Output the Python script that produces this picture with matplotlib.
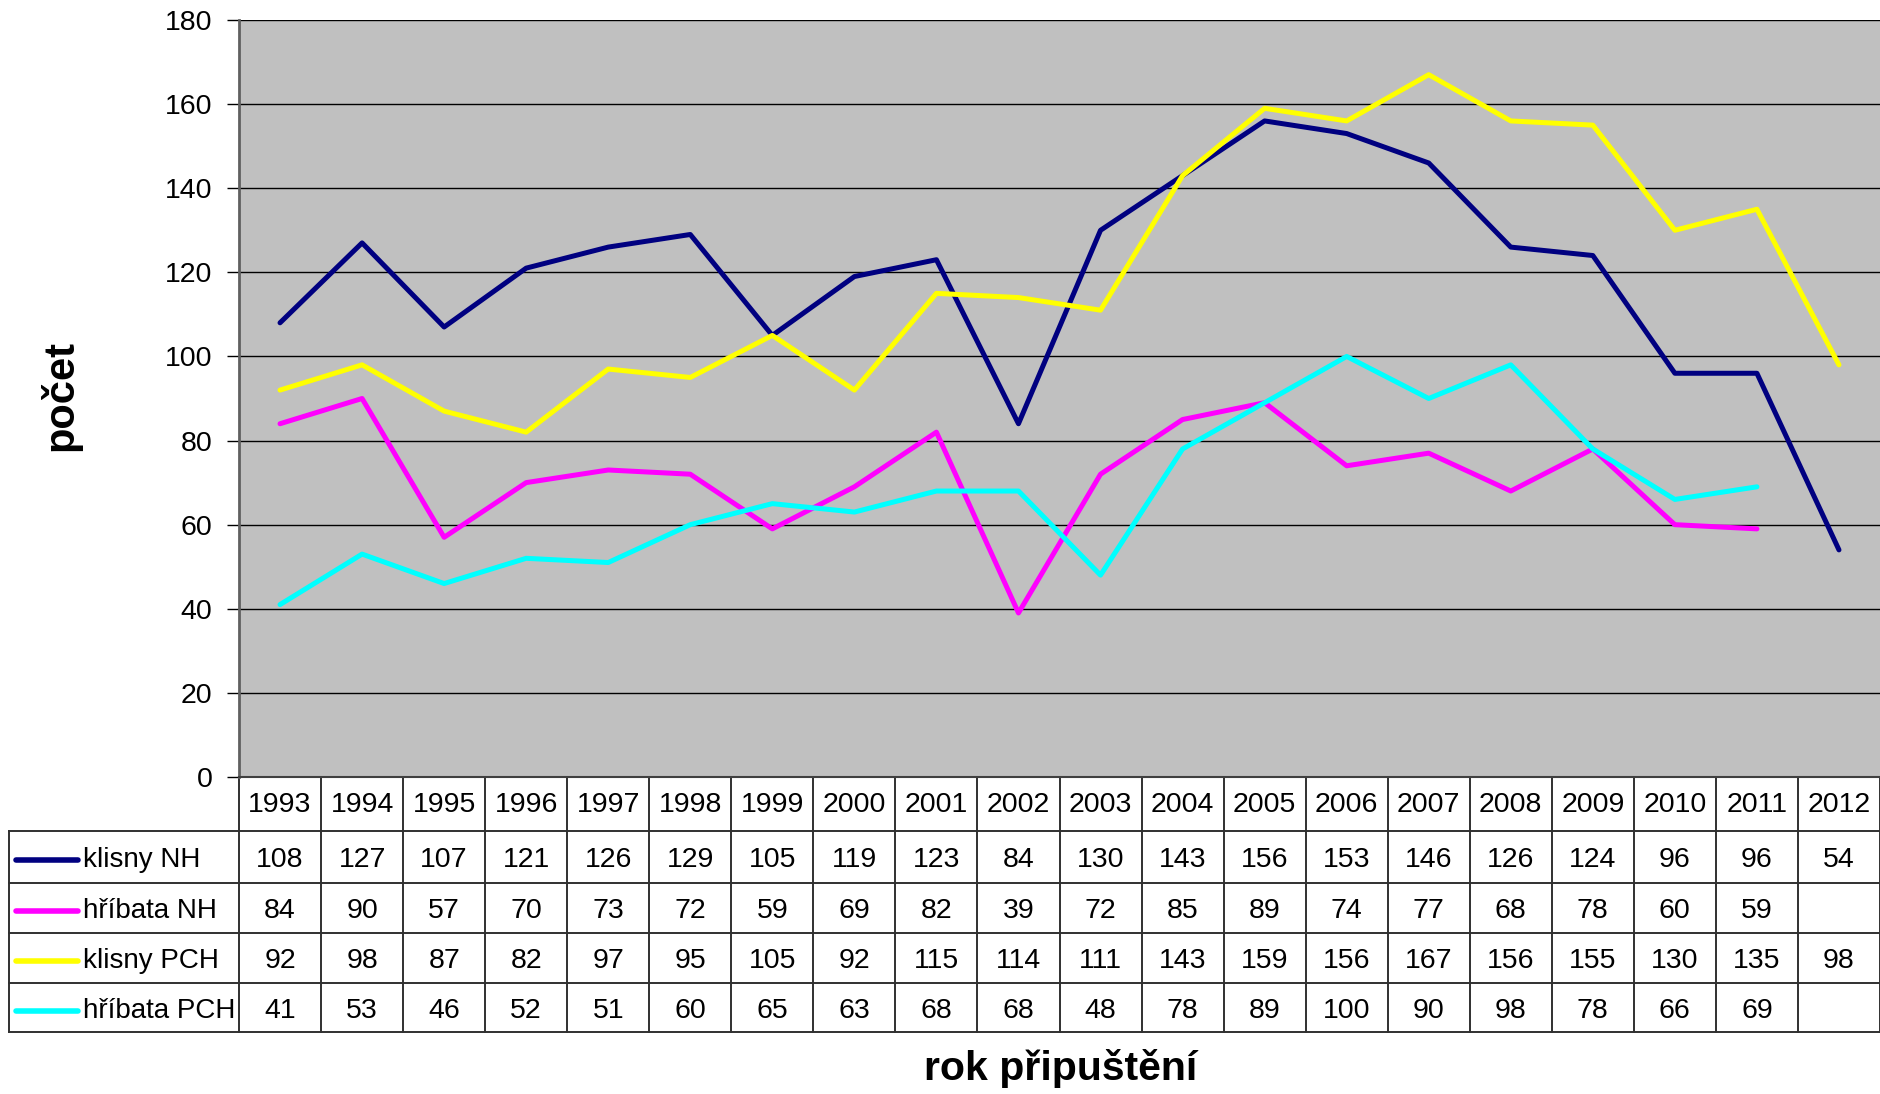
import numpy as np
import matplotlib.pyplot as plt
from matplotlib.transforms import blended_transform_factory

plt.rcParams['font.family'] = ['Liberation Sans', 'DejaVu Sans']

years = ['1993', '1994', '1995', '1996', '1997', '1998', '1999', '2000', '2001', '2002',
         '2003', '2004', '2005', '2006', '2007', '2008', '2009', '2010', '2011', '2012']
klisny_nh = [108, 127, 107, 121, 126, 129, 105, 119, 123, 84,
             130, 143, 156, 153, 146, 126, 124, 96, 96, 54]
hribata_nh = [84, 90, 57, 70, 73, 72, 59, 69, 82, 39,
              72, 85, 89, 74, 77, 68, 78, 60, 59, np.nan]
klisny_pch = [92, 98, 87, 82, 97, 95, 105, 92, 115, 114,
              111, 143, 159, 156, 167, 156, 155, 130, 135, 98]
hribata_pch = [41, 53, 46, 52, 51, 60, 65, 63, 68, 68,
               48, 78, 89, 100, 90, 98, 78, 66, 69, np.nan]

series = [('klisny NH', klisny_nh, '#000080'),
          ('hříbata NH', hribata_nh, '#FF00FF'),
          ('klisny PCH', klisny_pch, '#FFFF00'),
          ('hříbata PCH', hribata_pch, '#00FFFF')]

W, H = 1880, 1094
fig = plt.figure(figsize=(W / 100, H / 100), dpi=100)
# plot area in pixels: left 239, right 1880, top 20, bottom 777
ax = fig.add_axes([239 / W, 1 - 777 / H, (W - 239) / W, (777 - 20) / H])
ax.set_facecolor('#C0C0C0')

x = np.arange(len(years))
for name, vals, col in series:
    ax.plot(x, vals, color=col, lw=3.6, solid_capstyle='round', solid_joinstyle='round', zorder=3)

ax.set_xlim(-0.5, len(years) - 0.5)
ax.set_ylim(0, 180)
ax.set_yticks(range(0, 181, 20))
ax.yaxis.grid(True, color='black', lw=1)
ax.set_axisbelow(True)
ax.tick_params(axis='y', labelsize=20.5, length=9, width=1, pad=10, colors='black')
ax.set_xticks([])
for s in ['top', 'right']:
    ax.spines[s].set_visible(False)
ax.spines['left'].set_color('#606060')
ax.spines['left'].set_linewidth(2)
ax.spines['bottom'].set_color('#404040')
ax.spines['bottom'].set_linewidth(1.5)

# data table under the plot
tr = blended_transform_factory(ax.transData, fig.transFigure)


def fy(py):
    return 1 - py / H


row_edges = [777, 831, 883, 933, 983, 1032]
lc = '#303030'
# vertical column lines
for k in range(len(years) + 1):
    ax.plot([k - 0.5, k - 0.5], [fy(777), fy(1032)], transform=tr, color=lc, lw=1.4,
            clip_on=False)
# horizontal lines
for py in row_edges[1:]:
    fig.add_artist(plt.Line2D([9 / W, 1], [fy(py), fy(py)], color=lc, lw=1.4))
fig.add_artist(plt.Line2D([9 / W, 9 / W], [fy(831), fy(1032)], color=lc, lw=1.4))

# header years
for i, yr in enumerate(years):
    ax.text(i, fy((777 + 831) / 2 + 1), yr, transform=tr, ha='center', va='center', fontsize=20.5)

for r, (name, vals, col) in enumerate(series):
    yc = fy((row_edges[r + 1] + row_edges[r + 2]) / 2 + 3)
    fig.add_artist(plt.Line2D([16 / W, 78 / W], [yc, yc], color=col, lw=4,
                              solid_capstyle='round'))
    fig.text(83 / W, yc, name, ha='left', va='center', fontsize=20)
    for i, v in enumerate(vals):
        if not np.isnan(v):
            ax.text(i, yc, str(int(v)), transform=tr, ha='center', va='center', fontsize=20.5)

fig.text(60 / W, fy(396), 'počet', rotation=90, ha='center', va='center',
         fontsize=30, fontweight='bold')
fig.text(1061 / W, fy(1068), 'rok připuštění', ha='center', va='center',
         fontsize=29.5, fontweight='bold')

fig.savefig('out.png', dpi=100)
